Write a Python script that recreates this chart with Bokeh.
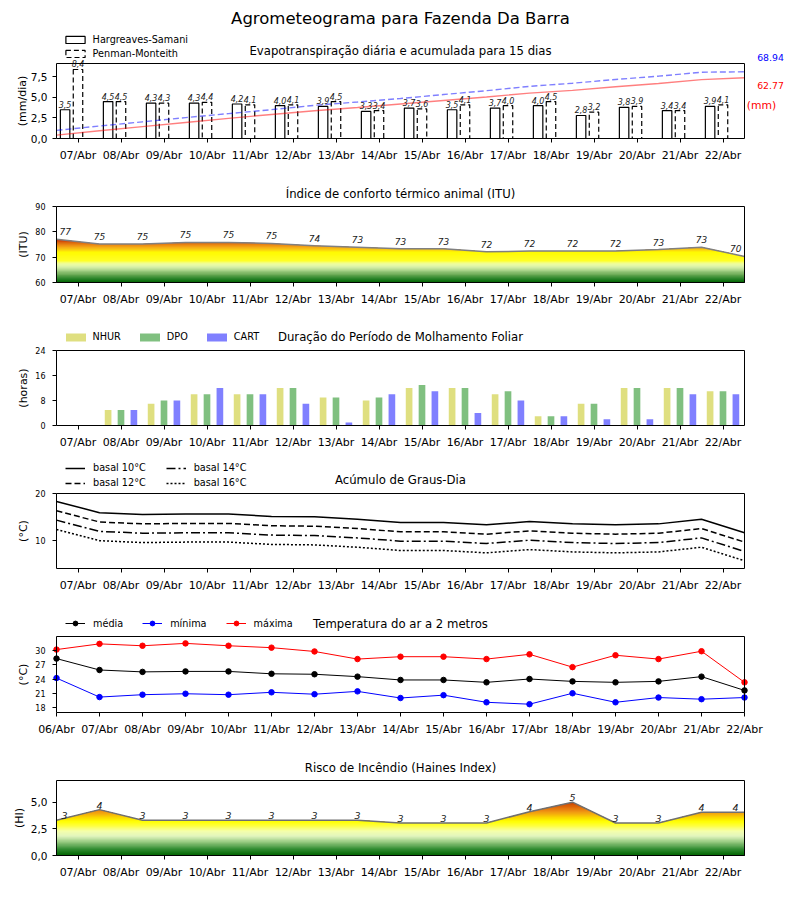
import numpy as np
from bokeh.plotting import figure
from bokeh.models import (Range1d, FixedTicker, CustomJSTickFormatter, Label, LabelSet,
                          ColumnDataSource, Legend, LegendItem, BoxAnnotation)
from bokeh.layouts import column
from bokeh.embed import file_html
from bokeh.resources import INLINE
from bokeh.core.properties import value

FONT = "DejaVu Sans"

# ---------------- data ----------------
main_title = "Agrometeograma para Fazenda Da Barra"
titles = ["Evapotranspiração diária e acumulada para 15 dias",
          "Índice de conforto térmico animal (ITU)",
          "Duração do Período de Molhamento Foliar",
          "Acúmulo de Graus-Dia",
          "Temperatura do ar a 2 metros",
          "Risco de Incêndio (Haines Index)"]

days = ["07/Abr", "08/Abr", "09/Abr", "10/Abr", "11/Abr", "12/Abr", "13/Abr", "14/Abr",
        "15/Abr", "16/Abr", "17/Abr", "18/Abr", "19/Abr", "20/Abr", "21/Abr", "22/Abr"]
days_temp = ["06/Abr", "07/Abr", "08/Abr", "09/Abr", "10/Abr", "11/Abr", "12/Abr", "13/Abr",
             "14/Abr", "15/Abr", "16/Abr", "17/Abr", "18/Abr", "19/Abr", "20/Abr", "21/Abr",
             "22/Abr"]

et_hs = [3.5, 4.5, 4.3, 4.3, 4.2, 4.0, 3.9, 3.3, 3.7, 3.5, 3.7, 4.0, 2.8, 3.8, 3.4, 3.9]
et_pm = [8.4, 4.5, 4.3, 4.4, 4.1, 4.1, 4.5, 3.4, 3.6, 4.1, 4.0, 4.5, 3.2, 3.9, 3.4, 4.1]
et_total_pm = 68.94
et_total_hs = 62.77

itu = [77.1, 75.2, 75.2, 75.8, 75.8, 75.4, 74.5, 73.9, 73.3, 73.3, 72.1, 72.4, 72.4,
       72.4, 73.0, 73.9, 70.3]

nhur = [0, 5, 7, 10, 10, 12, 9, 8, 12, 12, 10, 3, 7, 12, 12, 11]
dpo = [0, 5, 8, 10, 10, 12, 9, 9, 13, 12, 11, 3, 7, 12, 12, 11]
cart = [0, 5, 8, 12, 10, 7, 1, 10, 11, 4, 8, 3, 2, 2, 10, 10]

gd10 = [18.3, 15.9, 15.5, 15.6, 15.6, 15.1, 15.0, 14.5, 13.8, 13.8, 13.3, 14.0, 13.5, 13.3, 13.5, 14.5, 11.6]
gd12 = [16.3, 13.9, 13.5, 13.6, 13.6, 13.1, 13.0, 12.5, 11.8, 11.8, 11.3, 12.0, 11.5, 11.3, 11.5, 12.5, 9.6]
gd14 = [14.3, 11.9, 11.5, 11.6, 11.6, 11.1, 11.0, 10.5, 9.8, 9.8, 9.3, 10.0, 9.5, 9.3, 9.5, 10.5, 7.6]
gd16 = [12.3, 9.9, 9.5, 9.6, 9.6, 9.1, 9.0, 8.5, 7.8, 7.8, 7.3, 8.0, 7.5, 7.3, 7.5, 8.5, 5.6]

tmed = [28.3, 25.9, 25.5, 25.6, 25.6, 25.1, 25.0, 24.5, 23.8, 23.8, 23.3, 24.0, 23.5, 23.3, 23.5, 24.5, 21.6]
tmin = [24.2, 20.2, 20.7, 20.9, 20.7, 21.2, 20.8, 21.4, 20.0, 20.6, 19.1, 18.7, 21.0, 19.1, 20.1, 19.75, 20.1]
tmax = [30.2, 31.4, 31.0, 31.5, 31.0, 30.6, 29.8, 28.2, 28.7, 28.7, 28.2, 29.2, 26.5, 29.0, 28.2, 29.85, 23.3]

haines = [3.3, 4.3, 3.3, 3.3, 3.3, 3.3, 3.3, 3.3, 3.05, 3.05, 3.05, 4.1, 5.0, 3.05, 3.05, 4.05, 4.05]

# ---------------- positions / styles ----------------
t = np.arange(len(days_temp))            # instants (00h of each day)
ctr = np.arange(len(days)) + 0.5          # day centres
X0, X1 = 0, len(days)
LEFT = 56                                 # page x of the plot box left edge
FRAME_W = 688
PAGE_W = 800
PXU = FRAME_W / (X1 - X0)
XR_START = X0 - LEFT / PXU
XR_END = X1 + (PAGE_W - LEFT - FRAME_W) / PXU

ITU_STOPS = [(60, (0, 100, 0)), (61.5, (40, 130, 40)), (63, (100, 165, 80)),
             (64.5, (160, 205, 130)), (66, (215, 240, 170)), (67.5, (240, 255, 160)),
             (68.5, (255, 255, 40)), (72, (255, 250, 0)), (73, (250, 200, 20)),
             (74.5, (240, 150, 20)), (76, (215, 90, 10)), (77.5, (200, 20, 0))]
HI_STOPS = [(0.0, (0, 100, 0)), (0.6, (50, 140, 50)), (1.2, (140, 195, 120)),
            (1.8, (225, 245, 190)), (2.3, (245, 255, 170)), (2.8, (255, 255, 60)),
            (3.2, (255, 255, 0)), (3.6, (250, 210, 0)), (4.1, (240, 150, 20)),
            (4.6, (220, 100, 10)), (5.0, (200, 60, 0))]


def ramp(stops, v):
    vs = [s[0] for s in stops]
    rgb = [int(round(np.interp(v, vs, [s[1][k] for s in stops]))) for k in range(3)]
    return "#%02x%02x%02x" % tuple(rgb)


def gradient_fill(p, x, y, base, step, stops):
    x = np.asarray(x, float)
    y = np.asarray(y, float)
    levels = np.arange(base + step, y.max() + step, step)
    xs = set(x.tolist())
    for i in range(len(x) - 1):
        y0, y1 = y[i], y[i + 1]
        if y0 == y1:
            continue
        for L in levels:
            if (L - y0) * (L - y1) < 0:
                xs.add(x[i] + (L - y0) * (x[i + 1] - x[i]) / (y1 - y0))
    xs = np.array(sorted(xs))
    ys = np.interp(xs, x, y)
    for L in levels[::-1]:
        p.varea(x=xs, y1=base, y2=np.minimum(ys, L), fill_color=ramp(stops, L - step / 2))


def base_fig(box_h, top_px, bottom, yr, ytick_size, tick_standoff):
    """The frame covers the whole figure; axes sit at fixed data locations on the box edges."""
    y0, y1 = yr
    u = (y1 - y0) / box_h
    p = figure(width=PAGE_W, height=top_px + box_h + bottom,
               x_range=Range1d(XR_START, XR_END),
               y_range=Range1d(y0 - bottom * u, y1 + top_px * u),
               output_backend="svg", toolbar_location=None,
               min_border_left=0, min_border_right=0,
               min_border_top=0, min_border_bottom=0)
    p.grid.visible = False
    p.outline_line_color = None
    p.background_fill_color = "white"
    p.border_fill_color = "white"
    for ax in list(p.xaxis) + list(p.yaxis):
        ax.axis_line_color = None
        ax.major_tick_line_color = "black"
        ax.major_tick_out = 4
        ax.major_tick_in = 0
        ax.minor_tick_line_color = None
        ax.major_label_text_font = FONT
        ax.major_label_text_color = "black"
    p.xaxis.fixed_location = y0
    p.yaxis.fixed_location = X0
    p.xaxis.major_label_text_font_size = "11px"
    p.xaxis.major_label_standoff = 6
    p.yaxis.major_label_text_font_size = f"{ytick_size}px"
    p.yaxis.major_label_standoff = tick_standoff
    p._box_h = box_h
    p._yr = yr
    p._bottom = bottom
    return p


def draw_box(p):
    y0, y1 = p._yr
    p.add_layout(BoxAnnotation(left=X0, right=X1, bottom=y0, top=y1, fill_color=None,
                               fill_alpha=0, line_color="black", line_width=1, line_alpha=1))


def day_axis(p):
    p.xaxis.ticker = FixedTicker(ticks=list(ctr))
    p.xaxis.formatter = CustomJSTickFormatter(
        args=dict(labels=days),
        code="const i = Math.round(tick - 0.5); return (i >= 0 && i < labels.length) ? labels[i] : '';")


def comma_axis(p, ticks):
    p.yaxis.ticker = FixedTicker(ticks=ticks)
    p.yaxis.formatter = CustomJSTickFormatter(code="return tick.toFixed(1).replace('.', ',');")


def put_text(p, page_x, px_above_top, text, size, color="black", align="center",
             style="normal", angle=0.0):
    y0, y1 = p._yr
    y = y1 + px_above_top * (y1 - y0) / p._box_h
    x = X0 + (page_x - LEFT) / PXU
    p.add_layout(Label(x=x, y=y, text=text, text_font=FONT, text_font_size=f"{size}px",
                       text_color=color, text_align=align, text_baseline="middle",
                       text_font_style=style, angle=angle))


def ylabel(p, page_x, text):
    put_text(p, page_x, -p._box_h / 2, text, 11, angle=np.pi / 2)


def legend(p, items, loc, orientation="vertical", glyph_w=20, glyph_h=12, standoff=8, spacing=2):
    lg = Legend(items=items, location=(loc[0] + LEFT, loc[1] + p._bottom),
                orientation=orientation, padding=0, margin=0,
                spacing=spacing, glyph_width=glyph_w, glyph_height=glyph_h, label_height=12,
                label_standoff=standoff, label_text_font=FONT, label_text_font_size="9.7px",
                label_text_color="black", border_line_color=None, background_fill_alpha=0)
    p.add_layout(lg, "center")


def value_labels(p, xs, ys, texts, size, yoff, first_last=False, xoff=(3, -3)):
    xs = list(xs); ys = list(ys); texts = list(texts)
    groups = [(slice(None), "center", 0)]
    if first_last:
        groups = [(slice(0, 1), "left", xoff[0]), (slice(1, -1), "center", 0),
                  (slice(-1, None), "right", xoff[1])]
    for sl, al, xo in groups:
        src = ColumnDataSource(dict(x=xs[sl], y=ys[sl], text=texts[sl]))
        p.add_layout(LabelSet(x="x", y="y", text="text", source=src, text_align=al,
                              text_baseline="bottom", x_offset=xo, y_offset=yoff,
                              text_font=value(FONT), text_font_size=f"{size}px",
                              text_font_style="italic", text_color="#222222"))


def fmt1(v):
    return f"{v:.1f}".replace(".", ",")


# ---------------- panel 1: ET ----------------
p1 = base_fig(75, 63, 28, (0, 9.13), 10.5, 5)
day_axis(p1)
comma_axis(p1, [0, 2.5, 5, 7.5])
p1.extra_y_ranges = {"acc": Range1d(-28 * 77.5 / 75, 77.5 * (63 + 75) / 75)}
r_hs = p1.vbar(x=ctr - 0.3, top=et_hs, width=0.22, fill_color="white", line_color="black",
               line_width=1.2)
r_pm = p1.vbar(x=ctr, top=et_pm, width=0.22, fill_color="white", line_color="black",
               line_width=1.2, line_dash="5 3")
acc_pm = list(np.cumsum(et_pm)) + [et_total_pm]
acc_hs = list(np.cumsum(et_hs)) + [et_total_hs]
p1.line(t, acc_pm, y_range_name="acc", line_color="blue", line_alpha=0.5, line_width=1.4,
        line_dash="6 3")
p1.line(t, acc_hs, y_range_name="acc", line_color="red", line_alpha=0.5, line_width=1.4)
value_labels(p1, ctr - 0.3, et_hs, [fmt1(v) for v in et_hs], 8, 2)
value_labels(p1, ctr, et_pm, [fmt1(v) for v in et_pm], 8, 2)
legend(p1, [LegendItem(label="Hargreaves-Samani", renderers=[r_hs]),
            LegendItem(label="Penman-Monteith", renderers=[r_pm])],
       (6.6, 79), glyph_w=24, glyph_h=9, standoff=6, spacing=2)
put_text(p1, 400, 45.3, main_title, 16.5)
put_text(p1, 400, 12.6, titles[0], 11.7)
put_text(p1, 770, 6.0, f"{et_total_pm:.2f}", 9.3, color="blue")
put_text(p1, 770, -22.4, f"{et_total_hs:.2f}", 9.3, color="red")
put_text(p1, 761, -41.7, "(mm)", 10.8, color="red")
ylabel(p1, 21.7, "(mm/dia)")
draw_box(p1)

# ---------------- panel 2: ITU ----------------
p2 = base_fig(76, 40, 28, (60, 90), 8, 7)
day_axis(p2)
p2.yaxis.ticker = FixedTicker(ticks=[60, 70, 80, 90])
gradient_fill(p2, t, itu, 60, 0.5, ITU_STOPS)
p2.line(t, itu, line_color="#808080", line_width=1.5)
value_labels(p2, t, itu, [str(int(v)) for v in itu], 9, 4, first_last=True, xoff=(3, -3))
put_text(p2, 400, 12.3, titles[1], 11.7)
ylabel(p2, 23.3, "(ITU)")
draw_box(p2)

# ---------------- panel 3: leaf wetness ----------------
p3 = base_fig(75, 40, 28, (0, 24), 8, 7)
day_axis(p3)
p3.yaxis.ticker = FixedTicker(ticks=[0, 8, 16, 24])
r_n = p3.vbar(x=ctr - 0.3, top=nhur, width=0.155, fill_color="#dfdf80", line_color=None)
r_d = p3.vbar(x=ctr, top=dpo, width=0.155, fill_color="#80c080", line_color=None)
r_c = p3.vbar(x=ctr + 0.3, top=cart, width=0.155, fill_color="#8080ff", line_color=None)
legend(p3, [LegendItem(label="NHUR", renderers=[r_n]), LegendItem(label="DPO", renderers=[r_d]),
            LegendItem(label="CART", renderers=[r_c])],
       (6.5, 82.5), orientation="horizontal", glyph_w=25, glyph_h=10, standoff=5, spacing=16)
put_text(p3, 400, 13.3, titles[2], 11.7)
ylabel(p3, 23.3, "(horas)")
draw_box(p3)

# ---------------- panel 4: degree days ----------------
p4 = base_fig(75, 40, 28, (3.95, 20), 8, 7)
day_axis(p4)
p4.yaxis.ticker = FixedTicker(ticks=[10, 20])
g10 = p4.line(t, gd10, line_color="black", line_width=1.5)
g12 = p4.line(t, gd12, line_color="black", line_width=1.5, line_dash="6 3")
g14 = p4.line(t, gd14, line_color="black", line_width=1.5, line_dash="9 3 2 3")
g16 = p4.line(t, gd16, line_color="black", line_width=1.5, line_dash="2 2")
legend(p4, [LegendItem(label="basal 10°C", renderers=[g10]),
            LegendItem(label="basal 12°C", renderers=[g12])], (9, 79.3), spacing=3)
legend(p4, [LegendItem(label="basal 14°C", renderers=[g14]),
            LegendItem(label="basal 16°C", renderers=[g16])], (109.7, 79.3), spacing=3)
put_text(p4, 400, 13.3, titles[3], 11.7)
ylabel(p4, 23.3, "(°C)")
draw_box(p4)

# ---------------- panel 5: temperature ----------------
p5 = base_fig(76, 40, 28, (16.95, 32.95), 8, 7)
p5.xaxis.ticker = FixedTicker(ticks=list(t))
p5.xaxis.formatter = CustomJSTickFormatter(
    args=dict(labels=days_temp),
    code="const i = Math.round(tick); return (i >= 0 && i < labels.length) ? labels[i] : '';")
p5.yaxis.ticker = FixedTicker(ticks=[18, 21, 24, 27, 30])
items = []
for ser, col, lab in ((tmed, "black", "média"), (tmin, "blue", "mínima"), (tmax, "red", "máxima")):
    rl = p5.line(t, ser, line_color=col, line_width=1)
    rs = p5.scatter(t, ser, size=5.5, color=col)
    items.append(LegendItem(label=lab, renderers=[rl, rs]))
legend(p5, items, (9, 82.6), orientation="horizontal", glyph_w=20, standoff=8, spacing=19)
put_text(p5, 400, 12.3, titles[4], 11.7)
ylabel(p5, 23.3, "(°C)")
draw_box(p5)

# ---------------- panel 6: Haines ----------------
p6 = base_fig(75, 40, 29, (0, 7.03), 10.5, 5)
day_axis(p6)
comma_axis(p6, [0, 2.5, 5])
gradient_fill(p6, t, haines, 0, 0.1, HI_STOPS)
p6.line(t, haines, line_color="#707070", line_width=1.5)
value_labels(p6, t, haines, [str(int(v)) for v in haines], 9.5, 1, first_last=True, xoff=(5, -6))
put_text(p6, 400, 12.7, titles[5], 11.7)
ylabel(p6, 19, "(HI)")
draw_box(p6)

layout = column(p1, p2, p3, p4, p5, p6, spacing=0)
open("out.html", "w").write(file_html(layout, INLINE, title=main_title))
